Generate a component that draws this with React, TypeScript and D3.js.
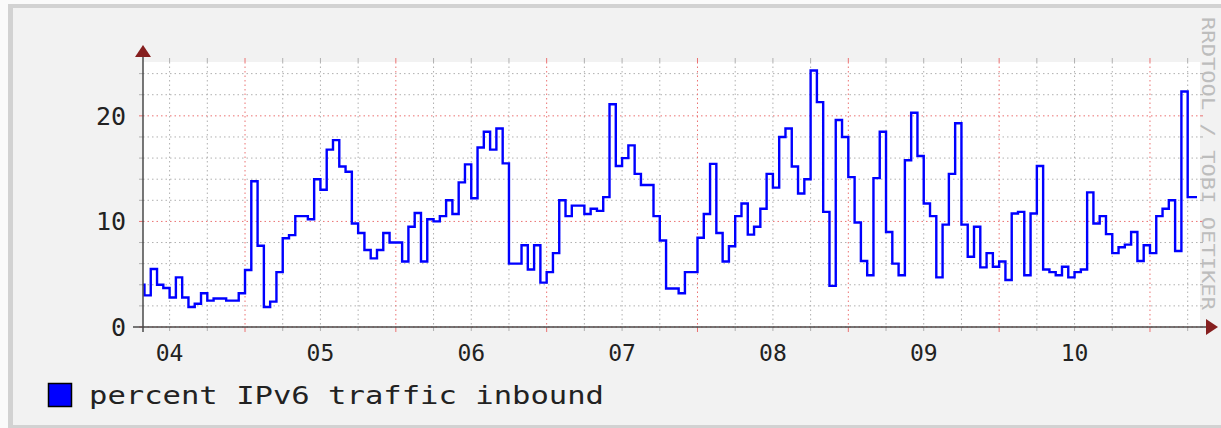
import React from 'react';
import * as d3 from 'd3';

// week graph, one value per hour, first hour starts 07:00 on the 4th
const start = new Date(2011, 5, 4, 7, 46);
const end = new Date(2011, 5, 11, 7, 29);
const firstHour = new Date(2011, 5, 4, 7);

const inbound = [
  4.0, 3.0, 5.5, 4.0, 3.7, 2.8, 4.7, 2.8, 1.9, 2.2, 3.2, 2.5, 2.7, 2.7, 2.5, 2.5, 3.2,
  5.4, 13.8, 7.7, 1.9, 2.4, 5.2, 8.4, 8.7, 10.5, 10.5, 10.2, 14.0, 13.0, 16.8, 17.7, 15.2,
  14.7, 9.8, 8.9, 7.3, 6.5, 7.3, 8.9, 8.0,
  8.0, 6.2, 9.5, 10.8, 6.2, 10.2, 10.0, 10.5, 12.0, 10.7, 13.7, 15.4, 12.2, 17.0, 18.5, 16.8,
  18.8, 15.5, 6.0, 6.0, 7.75, 5.45, 7.75, 4.2,
  5.2, 7.0, 12.0, 10.5, 11.5, 11.5, 10.7, 11.2, 11.0, 12.3, 21.1, 15.25, 16.0, 17.2, 14.5, 13.45,
  13.45, 10.5, 8.2, 3.65, 3.65, 3.2, 5.2, 5.2,
  8.45, 10.7, 15.45, 8.9, 6.2, 7.65, 10.5, 11.7, 8.75, 9.5, 11.2, 14.5, 13.2, 18.0, 18.8, 15.2,
  12.65, 14.0, 24.3, 21.3, 10.9, 3.9, 19.6, 18.0,
  14.2, 9.9, 6.25, 4.9, 14.1, 18.5, 9.0, 6.0, 4.9, 15.8, 20.3, 16.2, 11.7, 10.5, 4.7, 9.7,
  14.5, 19.3, 9.7, 6.65, 9.5, 5.65, 7.0, 5.7,
  6.2, 4.45, 10.75, 10.9, 4.9, 10.75, 15.25, 5.45, 5.2, 4.9, 5.7, 4.7, 5.2, 5.45, 12.75, 9.8,
  10.5, 8.8, 7.0, 7.55, 7.8, 9.0, 6.25, 7.75,
  7.0, 10.5, 11.2, 12.0, 7.2, 22.3, 12.3, 12.3,
];

const yMajor = [0, 10, 20];
const yMinor = [2, 4, 6, 8, 12, 14, 16, 18, 22, 24];
const dayLabels = ['04', '05', '06', '07', '08', '09', '10'];
const legendLabel = 'percent IPv6 traffic inbound';
const watermark = 'RRDTOOL / TOBI OETIKER';

const mono = '"DejaVu Sans Mono", monospace';

export default function App() {
  const W = 1221;
  const H = 428;
  const left = 143, right = 1197, top = 62, bottom = 327;
  const canvasRight = 1200;

  const x = d3.scaleTime().domain([start, end]).range([left, right]);
  const y = d3.scaleLinear().domain([0, 25.1]).range([bottom, top]);

  const pts: [Date, number][] = inbound.map((v, i) => {
    const t = d3.timeHour.offset(firstHour, i);
    return [t < start ? start : t, v];
  });
  pts.push([end, inbound[inbound.length - 1]]);

  const line = d3.line<[Date, number]>()
    .x(d => x(d[0]))
    .y(d => y(d[1]))
    .curve(d3.curveStepAfter);

  const majorX = d3.timeDay.range(start, end);
  const minorX = d3.timeHour.every(6)!.range(start, end).filter(d => d.getHours() !== 0);
  const noons = dayLabels.map((_, i) => new Date(2011, 5, 4 + i, 12));

  const gridGray = '#b0b0b0';
  const gridRed = '#eb7272';

  return (
    <svg width={W} height={H} style={{ position: 'absolute', left: 0, top: 0 }}>
      <rect x={0} y={0} width={W} height={H} fill="#fafafa" />
      <rect x={8} y={4} width={W - 8} height={H - 4} fill="#d2d2d2" />
      <rect x={13} y={8} width={W - 13} height={H - 11} fill="#f2f2f2" />
      <rect x={left} y={top} width={canvasRight - left} height={bottom - top} fill="#ffffff" />

      {/* minor grid */}
      {minorX.map((d, i) => (
        <g key={'mx' + i}>
          <line x1={x(d)} x2={x(d)} y1={top} y2={bottom} stroke={gridGray} strokeDasharray="1.5,3" />
          <line x1={x(d)} x2={x(d)} y1={top - 4} y2={top} stroke={gridGray} />
          <line x1={x(d)} x2={x(d)} y1={bottom} y2={bottom + 4} stroke={gridGray} />
        </g>
      ))}
      {yMinor.map((v, i) => (
        <g key={'my' + i}>
          <line x1={left} x2={canvasRight} y1={y(v)} y2={y(v)} stroke={gridGray} strokeDasharray="1.5,3" />
          <line x1={left - 4} x2={left} y1={y(v)} y2={y(v)} stroke={gridGray} />
          <line x1={canvasRight} x2={canvasRight + 3} y1={y(v)} y2={y(v)} stroke={gridGray} />
        </g>
      ))}
      {/* major grid */}
      {majorX.map((d, i) => (
        <g key={'Mx' + i}>
          <line x1={x(d)} x2={x(d)} y1={top} y2={bottom} stroke={gridRed} strokeDasharray="1.5,3" />
          <line x1={x(d)} x2={x(d)} y1={top - 4} y2={top} stroke={gridRed} />
          <line x1={x(d)} x2={x(d)} y1={bottom} y2={bottom + 5} stroke={gridRed} />
        </g>
      ))}
      {yMajor.map((v, i) => (
        <g key={'My' + i}>
          <line x1={left} x2={canvasRight} y1={y(v)} y2={y(v)} stroke={gridRed} strokeDasharray="1.5,3" />
          <line x1={left - 4} x2={left} y1={y(v)} y2={y(v)} stroke={gridRed} />
          <line x1={canvasRight} x2={canvasRight + 3} y1={y(v)} y2={y(v)} stroke={gridRed} />
        </g>
      ))}

      <path d={line(pts) || ''} fill="none" stroke="#0000ff" strokeWidth={2.4} />

      {/* axes */}
      <line x1={133} x2={1208} y1={bottom} y2={bottom} stroke="#4a4a4a" strokeWidth={1.5} />
      <line x1={left} x2={left} y1={bottom + 5} y2={56} stroke="#4a4a4a" strokeWidth={1.5} />
      <polygon points={`${left},45 ${left - 8},57 ${left + 8},57`} fill="#861f1f" />
      <polygon points={`1218,${bottom} 1206,${bottom - 8} 1206,${bottom + 8}`} fill="#861f1f" />

      {yMajor.map((v, i) => (
        <text key={'yl' + i} x={126} y={y(v)} dy="0.36em" textAnchor="end"
          fontFamily={mono} fontSize={25} fill="#222">{v}</text>
      ))}
      {noons.map((d, i) => (
        <text key={'xl' + i} x={x(d)} y={361} textAnchor="middle"
          fontFamily={mono} fontSize={23} fill="#222">{dayLabels[i]}</text>
      ))}

      <rect x={48.5} y={383.5} width={23} height={23} fill="#0000ff" stroke="#000" strokeWidth={1.5} />
      <text x={89} y={404} fontFamily={mono} fontSize={25} fill="#222"
        textLength={515} lengthAdjust="spacingAndGlyphs">{legendLabel}</text>

      <text transform="translate(1202,17) rotate(90)" fontFamily={mono} fontSize={18}
        fill="#bdbdbd" textLength={293} lengthAdjust="spacingAndGlyphs">{watermark}</text>
    </svg>
  );
}
